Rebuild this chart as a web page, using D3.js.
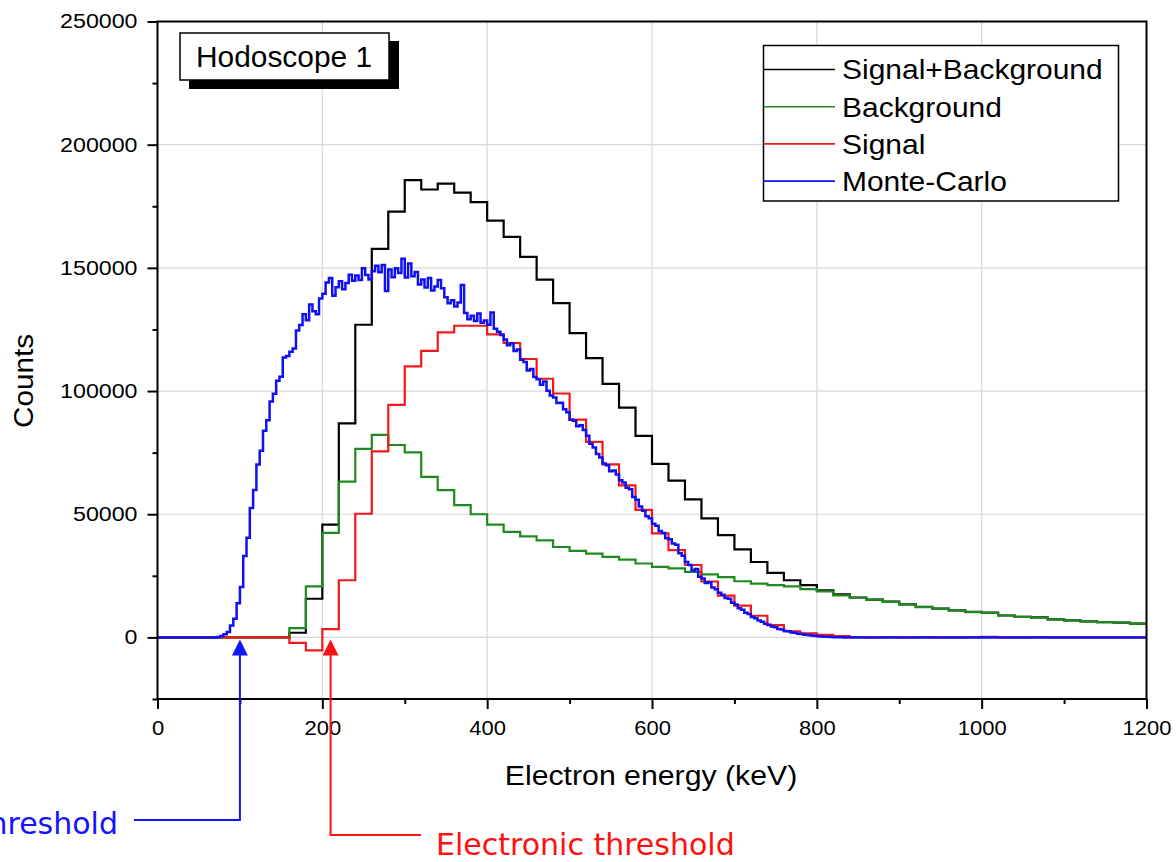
<!DOCTYPE html>
<html>
<head>
<meta charset="utf-8">
<script src="https://cdn.jsdelivr.net/npm/d3@7"></script>
<style>
  body { margin: 0; background: #fff; }
  svg { display: block; }
</style>
</head>
<body>
<svg id="chart" width="1176" height="862"></svg>
<script>
// ---- Histogram data: 20 keV bins starting at 0 keV ----
const histStart = 0;
const histBinWidth = 20;

const signalPlusBackground = [
  0, 0, 0, 0, 0, 0, 0, 0,
  1900, 15700, 45800, 86900, 126900, 157700, 172800, 185600,
  181800, 184200, 180500, 176700, 169200, 162600, 154500, 145200,
  135700, 123500, 113400, 102900, 93300, 81800, 70400, 63600,
  56000, 48300, 41500, 35700, 30600, 26200, 23200, 21200,
  19100, 17500, 16200, 15300, 14500, 13400, 12400, 11700,
  11000, 10400, 10100, 8900, 8300, 8100, 7300, 6900,
  6500, 6200, 6000, 5600
];

const background = [
  0, 0, 0, 0, 0, 0, 0, 0,
  3800, 20700, 42400, 63200, 76500, 82200, 78100, 75100,
  65200, 59800, 53700, 50000, 45800, 42800, 41000, 39400,
  36700, 35100, 34000, 32700, 31600, 30000, 28600, 28000,
  26600, 25600, 24500, 22800, 21800, 21200, 20700, 19600,
  18700, 17100, 16100, 15300, 14400, 13400, 12300, 11700,
  11000, 10300, 9900, 8900, 8300, 8000, 7300, 6900,
  6500, 6200, 6000, 5600
];

const signal = [
  0, 0, 0, 0, 0, 0, 0, 0,
  -2200, -5300, 3400, 23200, 50200, 75500, 94400, 110000,
  116300, 123800, 126500, 126500, 123000, 119500, 113000, 105000,
  99000, 88400, 79400, 70200, 61700, 51800, 42200, 35400,
  29400, 22700, 17000, 12900, 8800, 5000, 2500, 1600,
  1000, 500, 100, 0, 100, 0, 100, 0,
  0, 100, 200, 0, 0, 100, 0, 0,
  0, 0, 0, 0
];

// ---- Monte-Carlo spectrum: 4 keV bins starting at 60 keV ----
const mcStart = 60;
const mcBinWidth = 4;
const monteCarlo = [
  0, 0, 0, 200, 600, 1300, 2200, 4800, 7600, 13900,
  20500, 33000, 40500, 52500, 59800, 70200, 75800, 83900, 88100, 95800,
  98900, 104200, 105800, 113600, 114200, 115900, 117300, 124600, 126800, 131200,
  128700, 135100, 132400, 131200, 137600, 139500, 144100, 145900, 138700, 142100,
  144600, 141300, 143900, 147200, 144800, 146900, 145100, 149800, 147100, 145300,
  148600, 150900, 148200, 151200, 140600, 149300, 146200, 149800, 147900, 153700,
  146100, 151800, 146600, 148300, 143200, 145300, 142000, 145900, 140800, 142400,
  145100, 141700, 138100, 135600, 136900, 134300, 135900, 143000, 131700, 129100,
  130600, 128400, 131500, 127700, 128600, 126900, 131900, 125300, 124100, 122800,
  120900, 118600, 119400, 116300, 116900, 112700, 111800, 108300, 108900, 105700,
  104800, 102600, 103900, 100100, 98200, 97400, 95100, 95300, 92600, 91400,
  88300, 87900, 85700, 86100, 84200, 81900, 78600, 77100, 74400, 73000,
  70600, 69900, 67400, 67800, 66100, 63800, 62900, 60700, 60100, 57000,
  55900, 53100, 51400, 49200, 48400, 46100, 45300, 43200, 42400, 40300,
  39800, 38100, 37600, 34200, 33100, 30600, 29400, 27200, 27800, 24600,
  23900, 22100, 22400, 20300, 19500, 18100, 17300, 16000, 15700, 14100,
  13400, 11800, 11200, 10000, 9500, 8300, 7800, 6900, 6400, 5500,
  5100, 4400, 4100, 3400, 3200, 2600, 2500, 2000, 1900, 1500,
  1400, 1100, 1000, 800, 700, 500, 400, 300, 300, 200,
  100, 100, 100, 0, 0, 0, 0, 0, 0, 0
];

// ---- Axes and legend text ----
const xTickValues = [0, 200, 400, 600, 800, 1000, 1200];
const xMinorTicks = [100, 300, 500, 700, 900, 1100];
const yTickValues = [0, 50000, 100000, 150000, 200000, 250000];
const yMinorTicks = [-25000, 25000, 75000, 125000, 175000, 225000];
const xGridValues = [200, 400, 600, 800, 1000];
const yGridValues = [0, 50000, 100000, 150000, 200000];
const legendLabels = ["Signal+Background", "Background", "Signal", "Monte-Carlo"];
const xTitle = "Electron energy (keV)";
const yTitle = "Counts";
const panelTitle = "Hodoscope 1";
const mcThresholdLabel = "Simulation threshold";
const mcThresholdEnergy = 100;
const elecThresholdLabel = "Electronic threshold";
const elecThresholdEnergy = 210;

// ---- Layout ----
const plot = { left: 157.5, right: 1146.5, top: 21.5, bottom: 699 };
const colors = { sb: "#000000", bg: "#1f8a1f", sig: "#f01818", mc: "#1010f0" };
const chartFont = "'Liberation Sans', Arial, sans-serif";
const noteFont = "'DejaVu Sans', Verdana, sans-serif";

const svg = d3.select("#chart");

const x = d3.scaleLinear().domain([0, 1200]).range([plot.left, plot.right]);
const y = d3.scaleLinear().domain([-25000, 250000]).range([plot.bottom, plot.top]);

// stretch text horizontally to the wide lettering used on the chart
function widen(sel, k) {
  sel.each(function () {
    const n = this.getComputedTextLength();
    this.setAttribute("textLength", n * k);
    this.setAttribute("lengthAdjust", "spacingAndGlyphs");
  });
}

// ---- Grid ----
const grid = svg.append("g").attr("stroke", "#d8d8d8").attr("stroke-width", 1.2);
grid.selectAll("line.gx").data(xGridValues).join("line")
  .attr("x1", d => x(d)).attr("x2", d => x(d))
  .attr("y1", plot.top).attr("y2", plot.bottom);
grid.selectAll("line.gy").data(yGridValues).join("line")
  .attr("x1", plot.left).attr("x2", plot.right)
  .attr("y1", d => y(d)).attr("y2", d => y(d));

// ---- Spectra ----
const stepLine = d3.line()
  .x(d => x(d[0]))
  .y(d => y(d[1]))
  .curve(d3.curveStepAfter);

function histPoints(values, start, width) {
  const pts = values.map((v, i) => [start + i * width, v]);
  pts.push([start + values.length * width, values[values.length - 1]]);
  return pts;
}

const series = [
  { key: "sb", values: signalPlusBackground },
  { key: "bg", values: background },
  { key: "sig", values: signal }
];
const curves = svg.append("g").attr("fill", "none").attr("stroke-linejoin", "miter");
series.forEach(s => {
  curves.append("path")
    .attr("d", stepLine(histPoints(s.values, histStart, histBinWidth)))
    .attr("stroke", colors[s.key])
    .attr("stroke-width", 2.2);
});

const mcPoints = [[0, 0]].concat(monteCarlo.map((v, i) => [mcStart + i * mcBinWidth, v]));
mcPoints.push([1200, 0]);
curves.append("path")
  .attr("d", stepLine(mcPoints))
  .attr("stroke", colors.mc)
  .attr("stroke-width", 2.5);

// ---- Axes ----
const yAxis = svg.append("g").attr("transform", `translate(${plot.left},0)`)
  .call(d3.axisLeft(y).tickValues(yTickValues).tickSize(10).tickPadding(10).tickFormat(d3.format("d")));
const yMinor = svg.append("g").attr("transform", `translate(${plot.left},0)`)
  .call(d3.axisLeft(y).tickValues(yMinorTicks).tickSize(5).tickFormat(""));
const xAxis = svg.append("g").attr("transform", `translate(0,${plot.bottom})`)
  .call(d3.axisBottom(x).tickValues(xTickValues).tickSize(10).tickPadding(12).tickFormat(d3.format("d")));
const xMinor = svg.append("g").attr("transform", `translate(0,${plot.bottom})`)
  .call(d3.axisBottom(x).tickValues(xMinorTicks).tickSize(5).tickFormat(""));

[yAxis, yMinor, xAxis, xMinor].forEach(g => {
  g.select(".domain").remove();
  g.selectAll(".tick line").attr("stroke", "#000").attr("stroke-width", 2);
  g.selectAll(".tick text")
    .attr("fill", "#000")
    .style("font-family", chartFont)
    .style("font-size", "20px");
});
widen(yAxis.selectAll(".tick text"), 1.16);
widen(xAxis.selectAll(".tick text"), 1.1);

// Frame
svg.append("rect")
  .attr("x", plot.left).attr("y", plot.top)
  .attr("width", plot.right - plot.left).attr("height", plot.bottom - plot.top)
  .attr("fill", "none").attr("stroke", "#000").attr("stroke-width", 2);

// Axis titles
const xt = svg.append("text")
  .attr("x", (plot.left + plot.right) / 2 - 1).attr("y", 785)
  .attr("text-anchor", "middle")
  .style("font-family", chartFont).style("font-size", "27px")
  .text(xTitle);
widen(xt, 1.12);

const yt = svg.append("text")
  .attr("transform", "translate(33,381) rotate(-90)")
  .attr("text-anchor", "middle")
  .style("font-family", chartFont).style("font-size", "27px")
  .text(yTitle);
widen(yt, 1.1);

// ---- Panel label with drop shadow ----
const panel = svg.append("g");
panel.append("rect").attr("x", 189).attr("y", 41).attr("width", 210).attr("height", 48).attr("fill", "#000");
panel.append("rect").attr("x", 180).attr("y", 33).attr("width", 209).attr("height", 47)
  .attr("fill", "#fff").attr("stroke", "#000").attr("stroke-width", 1.5);
const pt = panel.append("text").attr("x", 196).attr("y", 67)
  .style("font-family", chartFont).style("font-size", "29px")
  .text(panelTitle);
widen(pt, 1.03);

// ---- Legend ----
const legend = svg.append("g");
const legendBox = { x: 763.5, y: 45.5, w: 355, h: 155.5, row0: 69.5, rowStep: 37.2 };
legend.append("rect")
  .attr("x", legendBox.x).attr("y", legendBox.y)
  .attr("width", legendBox.w).attr("height", legendBox.h)
  .attr("fill", "#fff").attr("stroke", "#000").attr("stroke-width", 1.5);
const legendKeys = ["sb", "bg", "sig", "mc"];
legendLabels.forEach((label, i) => {
  const yy = legendBox.row0 + i * legendBox.rowStep;
  legend.append("line")
    .attr("x1", legendBox.x).attr("x2", 835)
    .attr("y1", yy).attr("y2", yy)
    .attr("stroke", colors[legendKeys[i]]).attr("stroke-width", 1.6);
  const t = legend.append("text")
    .attr("x", 842).attr("y", yy).attr("dy", "0.35em")
    .style("font-family", chartFont).style("font-size", "28px")
    .text(label);
  widen(t, 1.07);
});

// ---- Threshold annotations ----
function threshold(energy, color, lineY, textX, textY, anchor, label) {
  const g = svg.append("g");
  const ax = x(energy);
  const tipY = y(0) + 2;
  g.append("path")
    .attr("d", `M${ax},${tipY + 14} V${lineY} H${textX + (anchor === "end" ? 16 : -15)}`)
    .attr("fill", "none").attr("stroke", color).attr("stroke-width", 2);
  g.append("path")
    .attr("d", `M${ax},${tipY} L${ax - 8},${tipY + 16} L${ax + 8},${tipY + 16} Z`)
    .attr("fill", color);
  g.append("text")
    .attr("x", textX).attr("y", textY)
    .attr("text-anchor", anchor)
    .attr("fill", color)
    .style("font-family", noteFont).style("font-size", "30px")
    .text(label);
}
threshold(mcThresholdEnergy, "#1414ff", 820, 118, 834, "end", mcThresholdLabel);
threshold(elecThresholdEnergy, "#ff1010", 835, 436, 855, "start", elecThresholdLabel);
</script>
</body>
</html>
